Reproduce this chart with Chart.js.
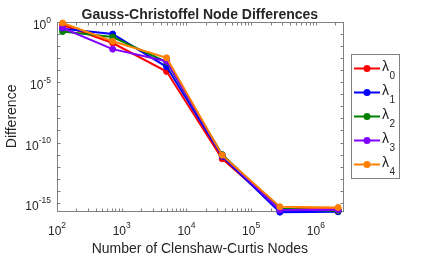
<!DOCTYPE html>
<html><head><meta charset="utf-8">
<script src="https://cdn.jsdelivr.net/npm/chart.js@4/dist/chart.umd.min.js"></script>
<style>html,body{margin:0;padding:0;background:#fff}canvas{display:block}</style>
</head><body>
<canvas id="c" width="436" height="257"></canvas>
<script>
// ---- data ----
const nodes   = [122, 725, 4940, 35700, 278000, 2210000];
const lambda0 = [5.6e-1, 1.8e-2, 7.8e-5, 4.5e-12, 2.9e-16, 2.9e-16];
const lambda1 = [2.8e-1, 1.0e-1, 1.9e-4, 7.1e-12, 1.66e-16, 1.78e-16];
const lambda2 = [1.6e-1, 5.6e-2, 4.7e-4, 1.0e-11, 3.2e-16, 2.1e-16];
const lambda3 = [3.2e-1, 5.6e-3, 5.6e-4, 8.9e-12, 2.5e-16, 2.5e-16];
const lambda4 = [8.3e-1, 2.5e-2, 1.07e-3, 8.9e-12, 4.7e-16, 4.1e-16];
const seriesSubscripts = ['0', '1', '2', '3', '4'];
const yTickExponents = [0, -5, -10, -15];
const xTickExponents = [2, 3, 4, 5, 6];
const titleText = 'Gauss-Christoffel Node Differences';
const xLabelText = 'Number of Clenshaw-Curtis Nodes';
const yLabelText = 'Difference';

// ---- styles ----
const seriesValues = [lambda0, lambda1, lambda2, lambda3, lambda4];
const seriesColors = ['#ff0000', '#0000ff', '#008000', '#8000ff', '#ff8000'];
const FONT = '"Liberation Sans", Arial, Helvetica, sans-serif';
const TXT = '#262626';
const AXC = '#808080';

const datasets = seriesValues.map((vals, i) => ({
  label: 'λ' + seriesSubscripts[i],
  data: nodes.map((n, k) => ({x: n, y: vals[k]})),
  borderColor: seriesColors[i],
  backgroundColor: seriesColors[i],
  pointBackgroundColor: seriesColors[i],
  pointBorderColor: seriesColors[i],
  borderWidth: 2,
  pointRadius: 3,
  pointBorderWidth: 1,
  tension: 0,
  clip: false,
  order: seriesValues.length - 1 - i
}));

function drawPow(ctx, exp, x, yBase, align, baseSize, expSize, raise) {
  ctx.font = baseSize + 'px ' + FONT;
  const wb = ctx.measureText('10').width;
  ctx.font = expSize + 'px ' + FONT;
  const es = String(exp);
  const we = ctx.measureText(es).width;
  const x0 = align === 'right' ? x - wb - we : x - (wb + we) / 2;
  ctx.textAlign = 'left';
  ctx.textBaseline = 'alphabetic';
  ctx.font = baseSize + 'px ' + FONT;
  ctx.fillText('10', x0, yBase);
  ctx.font = expSize + 'px ' + FONT;
  ctx.fillText(es, x0 + wb, yBase - raise);
}

const matlabAxes = {
  id: 'matlabAxes',
  beforeDatasetsDraw(chart) {
    const ctx = chart.ctx, a = chart.chartArea, xs = chart.scales.x, ys = chart.scales.y;
    ctx.save();
    ctx.strokeStyle = AXC;
    ctx.lineWidth = 1;
    const L = Math.round(a.left) + 0.5, R = Math.round(a.right) + 0.5;
    const T = Math.round(a.top) + 0.5, B = Math.round(a.bottom) + 0.5;
    ctx.beginPath();
    // y decade ticks
    for (let e = 0; e >= -15; e--) {
      const y = Math.round(ys.getPixelForValue(Math.pow(10, e))) + 0.5;
      ctx.moveTo(L, y); ctx.lineTo(L + 3, y);
      ctx.moveTo(R, y); ctx.lineTo(R - 3, y);
    }
    // x ticks (major + minor)
    for (let e = 2; e <= 6; e++) {
      for (let m = 1; m <= 9; m++) {
        const v = m * Math.pow(10, e);
        if (v > xs.max) break;
        const x = Math.round(xs.getPixelForValue(v)) + 0.5;
        ctx.moveTo(x, B); ctx.lineTo(x, B - 3);
        ctx.moveTo(x, T); ctx.lineTo(x, T + 3);
      }
    }
    ctx.stroke();
    ctx.strokeRect(L, T, R - L, B - T);

    ctx.fillStyle = TXT;
    // y tick labels
    yTickExponents.forEach(e => {
      const y = ys.getPixelForValue(Math.pow(10, e));
      drawPow(ctx, e, 51, y + 7, 'right', 12, 8.5, 6.5);
    });
    // x tick labels
    xTickExponents.forEach(e => {
      const x = xs.getPixelForValue(Math.pow(10, e));
      drawPow(ctx, e, x, 234.5, 'center', 12, 8.5, 6.5);
    });
    // title
    ctx.textAlign = 'center';
    ctx.textBaseline = 'alphabetic';
    ctx.font = 'bold 14px ' + FONT;
    ctx.fillText(titleText, (a.left + a.right) / 2, 18.5);
    // x label
    ctx.font = '14px ' + FONT;
    ctx.fillText(xLabelText, (a.left + a.right) / 2, 252.5);
    // y label
    ctx.save();
    ctx.translate(15.5, (a.top + a.bottom) / 2);
    ctx.rotate(-Math.PI / 2);
    ctx.fillText(yLabelText, 0, 0);
    ctx.restore();

    // legend
    ctx.fillStyle = '#ffffff';
    ctx.fillRect(351.5, 54.5, 48, 124);
    ctx.strokeStyle = AXC;
    ctx.strokeRect(351.5, 54.5, 48, 124);
    datasets.forEach((ds, i) => {
      const cy = 68.5 + i * 24;
      ctx.strokeStyle = ds.borderColor;
      ctx.lineWidth = 2;
      ctx.beginPath();
      ctx.moveTo(354, cy); ctx.lineTo(380, cy);
      ctx.stroke();
      ctx.fillStyle = ds.borderColor;
      ctx.beginPath();
      ctx.arc(367, cy, 3.5, 0, Math.PI * 2);
      ctx.fill();
      ctx.fillStyle = TXT;
      ctx.textAlign = 'left';
      ctx.font = '14px ' + FONT;
      ctx.fillText('λ', 382, cy + 2.8);
      const wl = ctx.measureText('λ').width;
      ctx.font = '10px ' + FONT;
      ctx.fillText(seriesSubscripts[i], 382 + wl + 0.5, cy + 10);
    });
    ctx.restore();
  }
};

new Chart(document.getElementById('c'), {
  type: 'line',
  data: {datasets},
  options: {
    responsive: false,
    animation: false,
    devicePixelRatio: 1,
    layout: {padding: {left: 57, right: 93.3, top: 22, bottom: 46.3}},
    plugins: {legend: {display: false}, title: {display: false}, tooltip: {enabled: false}},
    scales: {
      x: {type: 'logarithmic', min: 100, max: 2.6e6, display: false},
      y: {type: 'logarithmic', min: 2.2e-16, max: 1, display: false}
    }
  },
  plugins: [matlabAxes]
});
</script>
</body></html>
